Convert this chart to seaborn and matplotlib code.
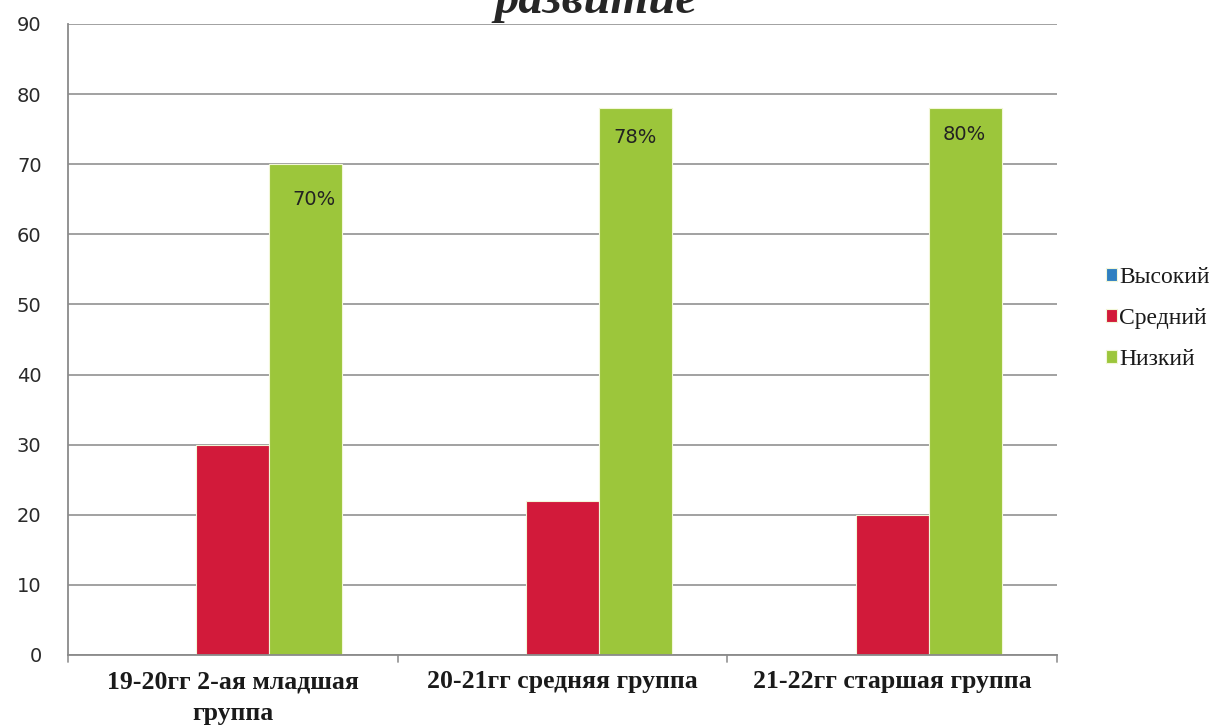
import pandas as pd
import matplotlib.pyplot as plt
import seaborn as sns

groups = ["19-20гг 2-ая младшая\nгруппа", "20-21гг средняя группа", "21-22гг старшая группа"]
levels = ["Высокий", "Средний", "Низкий"]
high = [0, 0, 0]
mid = [30, 22, 20]
low = [70, 78, 78]
low_labels = ["70%", "78%", "80%"]

df = pd.DataFrame({
    "group": groups * 3,
    "level": [levels[0]] * 3 + [levels[1]] * 3 + [levels[2]] * 3,
    "value": high + mid + low,
})

sns.set_style("white")
plt.rcParams['font.family'] = ['DejaVu Sans']

fig = plt.figure(figsize=(12.23, 7.25), dpi=100)
ax = fig.add_axes([0.0556, 0.0966, 0.8087, 0.8703])

colors = ["#2f7fc1", "#d21a3a", "#9cc63b"]
sns.barplot(data=df, x="group", y="value", hue="level", hue_order=levels,
            palette=colors, width=0.665, gap=0, ax=ax, saturation=1,
            edgecolor="#f2f7d8", linewidth=0.8)

ax.set_ylim(0, 90)
ax.set_yticks(range(0, 91, 10))
ax.set_xlim(-0.5, 2.5)
ax.grid(axis="y", color="#9a9a9a", linewidth=1.3)
ax.set_axisbelow(True)
for s in ["top", "right"]:
    ax.spines[s].set_visible(False)
for s in ["left", "bottom"]:
    ax.spines[s].set_color("#8a8a8a")
    ax.spines[s].set_linewidth(1.3)

ax.tick_params(axis="y", length=8, width=1.3, color="#9a9a9a", labelsize=14, pad=11, labelcolor="#2a2a2a")
ax.tick_params(axis="x", length=0, pad=11)
ax.set_xticks([0, 1, 2])
ax.set_xticklabels(groups, fontfamily="Liberation Serif", fontweight="bold",
                   fontsize=18.5, linespacing=1.5, color="#1a1a1a")
# boundary ticks between groups, Excel style
for xb in [-0.5, 0.5, 1.5, 2.5]:
    ax.plot([xb, xb], [0, -1.0], color="#9a9a9a", linewidth=1.3, clip_on=False)

ax.set_xlabel("")
ax.set_ylabel("")

# value labels inside the green bars
label_dx = [0.245, 0.22, 0.22]
label_y = [65, 73.8, 74.2]
for i, txt in enumerate(low_labels):
    ax.text(i + label_dx[i], label_y[i], txt, ha="center", va="center", fontsize=14, color="#222222")

leg = ax.legend(loc="center left", bbox_to_anchor=(1.0495, 0.533), frameon=False,
                prop={"family": "Liberation Serif", "size": 17},
                borderaxespad=0, borderpad=0,
                handlelength=0.45, handleheight=0.45, handletextpad=0.12, labelspacing=0.85)
for t in leg.get_texts():
    t.set_color("#1a1a1a")

fig.text(0.487, 1 - 13 / 725, "развитие", ha="center", va="baseline",
         fontfamily="Liberation Serif", fontweight="bold", fontstyle="italic", fontsize=35)

fig.savefig("out.png", dpi=100)
